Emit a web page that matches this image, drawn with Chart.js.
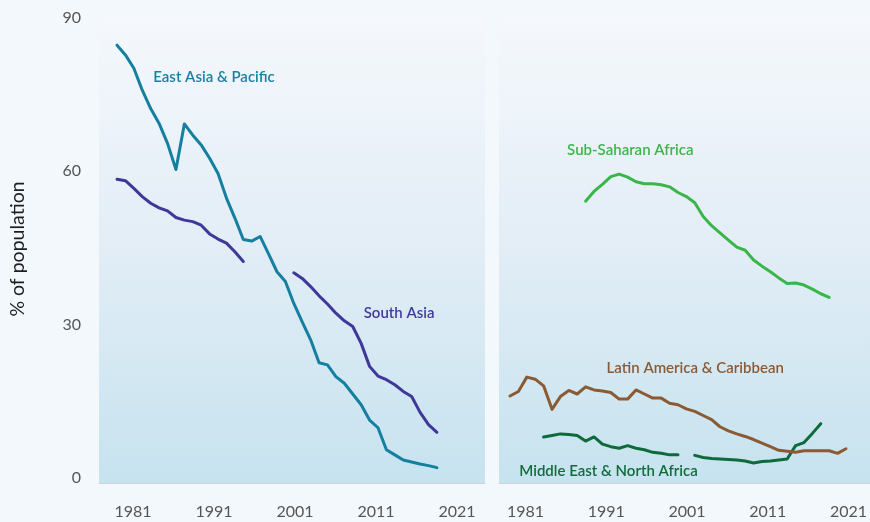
<!DOCTYPE html>
<html><head><meta charset="utf-8">
<script src="https://cdn.jsdelivr.net/npm/chart.js@4.4.1/dist/chart.umd.min.js"></script>
<style>
html,body{margin:0;padding:0;background:#f3f8fc;width:870px;height:522px;overflow:hidden}
#left{position:absolute;left:0;top:0;width:485px;height:522px}
#right{position:absolute;left:499px;top:0;width:371px;height:522px}
</style></head><body>
<div id="left"><canvas id="c1"></canvas></div>
<div id="right"><canvas id="c2"></canvas></div>
<script>
// ---- data ----
const tickYears = [1981, 1991, 2001, 2011, 2021];
const yTicks = [0, 30, 60, 90];

const eapYears = [1981,1982,1983,1984,1985,1986,1987,1988,1989,1990,1991,1992,1993,1994,1995,1996,1997,1998,1999,2000,2001,2002,2003,2004,2005,2006,2007,2008,2009,2010,2011,2012,2013,2014,2015,2016,2017,2018,2019];
const eastAsiaPacific = [84.6,82.7,80.1,75.8,72.2,69.3,65.4,60.3,69.2,67.0,65.1,62.5,59.5,54.7,50.8,46.6,46.3,47.2,43.8,40.3,38.4,34.1,30.5,27.0,22.5,22.1,19.8,18.5,16.4,14.3,11.3,9.8,5.5,4.5,3.5,3.1,2.7,2.4,2.0];

const saYears = [1981,1982,1983,1984,1985,1986,1987,1988,1989,1990,1991,1992,1993,1994,1995,1996,1997,1998,1999,2000,2001,2002,2003,2004,2005,2006,2007,2008,2009,2010,2011,2012,2013,2014,2015,2016,2017,2018,2019];
const southAsia = [58.4,58.1,56.6,55.0,53.7,52.8,52.2,50.9,50.4,50.1,49.4,47.7,46.7,45.9,44.2,42.3,null,null,null,null,null,40.1,39.0,37.4,35.6,34.0,32.2,30.7,29.6,26.3,21.8,19.9,19.2,18.2,16.9,15.9,12.8,10.4,8.9];

const ssaYears = [1990,1991,1992,1993,1994,1995,1996,1997,1998,1999,2000,2001,2002,2003,2004,2005,2006,2007,2008,2009,2010,2011,2012,2013,2014,2015,2016,2017,2018,2019];
const subSaharanAfrica = [54.1,56.0,57.4,58.9,59.4,58.8,57.9,57.5,57.5,57.3,56.9,55.8,55.0,53.8,51.1,49.3,47.9,46.5,45.1,44.5,42.6,41.4,40.3,39.1,38.0,38.1,37.7,36.9,36.0,35.3];

const lacYears = [1981,1982,1983,1984,1985,1986,1987,1988,1989,1990,1991,1992,1993,1994,1995,1996,1997,1998,1999,2000,2001,2002,2003,2004,2005,2006,2007,2008,2009,2010,2011,2012,2013,2014,2015,2016,2017,2018,2019,2020,2021];
const latinAmericaCaribbean = [16.0,16.9,19.7,19.3,18.0,13.4,15.9,17.1,16.4,17.8,17.2,17.0,16.7,15.4,15.4,17.2,16.4,15.6,15.6,14.6,14.3,13.5,13.0,12.2,11.4,10.0,9.2,8.6,8.1,7.5,6.8,6.1,5.4,5.2,5.0,5.3,5.3,5.3,5.3,4.8,5.7];

const menaYears = [1985,1986,1987,1988,1989,1990,1991,1992,1993,1994,1995,1996,1997,1998,1999,2000,2001,2002,2003,2004,2005,2006,2007,2008,2009,2010,2011,2012,2013,2014,2015,2016,2017,2018];
const middleEastNorthAfrica = [8.0,8.3,8.6,8.5,8.3,7.2,8.0,6.6,6.1,5.8,6.3,5.8,5.5,5.0,4.8,4.5,4.5,null,4.4,4.0,3.8,3.7,3.6,3.5,3.3,2.9,3.2,3.3,3.5,3.7,6.3,6.9,8.7,10.6];

// ---- series labels (placed in data space) ----
const leftLabels = [
  {text:'East Asia & Pacific', x:1985.3, y:78.4, color:'#1b7fa3'},
  {text:'South Asia', x:2010.3, y:32.2, color:'#413a9c'}
];
const rightLabels = [
  {text:'Sub-Saharan Africa', x:1987.8, y:64.1, color:'#3db54a'},
  {text:'Latin America & Caribbean', x:1992.5, y:21.5, color:'#8a5a35'},
  {text:'Middle East & North Africa', x:1982.1, y:1.4, color:'#116b3b'}
];

const FONT = 'Lato, "Open Sans", sans-serif';
Chart.defaults.font.family = FONT;

const pts = (yrs, vals) => yrs.map((yr, i) => ({x: yr, y: vals[i]}));

const bgPlugin = {
  id: 'bg',
  beforeDraw(chart) {
    const {ctx, chartArea: a} = chart;
    const g = ctx.createLinearGradient(0, a.top, 0, a.bottom);
    g.addColorStop(0, '#f5f8fc');
    g.addColorStop(0.5, '#e2edf6');
    g.addColorStop(1, '#c6e3ef');
    ctx.save();
    ctx.fillStyle = g;
    ctx.fillRect(a.left, a.top, a.right - a.left, a.bottom - a.top);
    ctx.restore();
  }
};
const labelPlugin = {
  id: 'seriesLabels',
  afterDatasetsDraw(chart, args, opts) {
    const {ctx} = chart;
    const xs = chart.scales.x, ys = chart.scales.y;
    ctx.save();
    ctx.font = '600 15px ' + FONT;
    ctx.textAlign = 'left';
    ctx.textBaseline = 'middle';
    (opts.items || []).forEach(l => {
      ctx.fillStyle = l.color;
      ctx.fillText(l.text, xs.getPixelForValue(l.x), ys.getPixelForValue(l.y));
    });
    ctx.restore();
  }
};

function lineDs(data, color) {
  return {data, borderColor: color, backgroundColor: color, borderWidth: 3,
    pointRadius: 0, borderCapStyle: 'round', borderJoinStyle: 'round', spanGaps: false, tension: 0, fill: false};
}

function makeOptions(dataMin, dataMax, labMin, labMax, showY, items) {
  return {
    responsive: true, maintainAspectRatio: false, animation: false,
    layout: {padding: {top: 15, left: 0, right: 0, bottom: 0}},
    plugins: {legend: {display: false}, tooltip: {enabled: false}, seriesLabels: {items}},
    scales: {
      x: {type: 'linear', min: dataMin, max: dataMax, display: false},
      xl: {type: 'linear', position: 'bottom', min: labMin, max: labMax,
        afterBuildTicks: s => { s.ticks = tickYears.map(v => ({value: v})); },
        ticks: {callback: v => String(v), color: '#555', font: {size: 16}, padding: 0, maxRotation: 0, autoSkip: false},
        grid: {display: false, drawTicks: true, tickLength: 19},
        border: {display: true, color: '#c9d3d9', width: 1},
        afterFit: s => { s.height = 39; }
      },
      y: {type: 'linear', min: -1, max: 90.5, display: showY,
        afterBuildTicks: s => { s.ticks = yTicks.map(v => ({value: v})); },
        ticks: {color: '#555', font: {size: 16}, padding: 0},
        grid: {display: false, drawTicks: true, tickLength: 18},
        border: {display: false},
        title: {display: true, text: '% of population', color: '#1e1e1e', font: {size: 19.5}, padding: {top: 6, bottom: 0}},
        afterFit: s => { if (showY) s.width = 99; }
      }
    }
  };
}

new Chart(document.getElementById('c1'), {
  type: 'line',
  data: {datasets: [
    lineDs(pts(eapYears, eastAsiaPacific), '#157f9f'),
    lineDs(pts(saYears, southAsia), '#3f3898')
  ]},
  options: makeOptions(1978.86, 2024.71, 1976.8, 2024.46, true, leftLabels),
  plugins: [bgPlugin, labelPlugin]
});

new Chart(document.getElementById('c2'), {
  type: 'line',
  data: {datasets: [
    lineDs(pts(ssaYears, subSaharanAfrica), '#3ab54a'),
    lineDs(pts(lacYears, latinAmericaCaribbean), '#8b5a33'),
    lineDs(pts(menaYears, middleEastNorthAfrica), '#0e6a3a')
  ]},
  options: makeOptions(1979.69, 2023.86, 1977.72, 2023.66, false, rightLabels),
  plugins: [bgPlugin, labelPlugin]
});
</script>
</body></html>
